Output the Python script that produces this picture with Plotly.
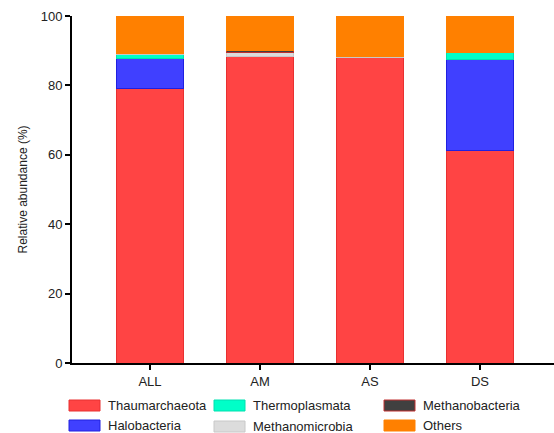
import plotly.graph_objects as go

categories = ["ALL", "AM", "AS", "DS"]
thaumarchaeota = [79.2, 88.3, 88.1, 61.1]
halobacteria = [8.5, 0.0, 0.0, 26.4]
thermoplasmata = [1.2, 0.0, 0.0, 2.1]
methanomicrobia = [0.3, 1.3, 0.3, 0.0]
methanobacteria = [0.1, 0.4, 0.0, 0.0]
others = [10.7, 10.0, 11.6, 10.4]

series = [
    ("Thaumarchaeota", thaumarchaeota, "#FF4444", "#E83030"),
    ("Halobacteria", halobacteria, "#4040FF", "#2020E0"),
    ("Thermoplasmata", thermoplasmata, "#00FFC8", "#00E0B0"),
    ("Methanomicrobia", methanomicrobia, "#DCDCDC", "#C8C8C8"),
    ("Methanobacteria", methanobacteria, "#404040", "#C03030"),
    ("Others", others, "#FF8000", "#FF8000"),
]

W, H = 554, 433
L, R, T, B = 72, 0, 16, 70
pw, ph = W - L - R, H - T - B

def px_x(px):
    return (px - L) / pw

def px_y(py):
    return (H - B - py) / ph

fig = go.Figure()
for name, vals, color, lcolor in series:
    fig.add_trace(go.Bar(
        x=categories, y=vals, name=name,
        marker=dict(color=color, line=dict(color=lcolor, width=1)),
        width=0.61, showlegend=False,
    ))

# legend laid out as in the reference (3 columns x 2 rows)
legend_pos = {
    "Thaumarchaeota": (69, 400),
    "Halobacteria": (69, 420),
    "Thermoplasmata": (214, 400),
    "Methanomicrobia": (214, 421),
    "Methanobacteria": (384, 400),
    "Others": (384, 420),
}
shapes, annotations = [], []
for name, vals, color, lcolor in series:
    x0, y0 = legend_pos[name]
    shapes.append(dict(
        type="rect", xref="paper", yref="paper",
        x0=px_x(x0), x1=px_x(x0 + 31), y0=px_y(y0), y1=px_y(y0 + 11),
        fillcolor=color, line=dict(color=lcolor, width=1),
    ))
    annotations.append(dict(
        xref="paper", yref="paper", x=px_x(x0 + 37), y=px_y(y0 + 5.5),
        xanchor="left", yanchor="middle", text=name, showarrow=False,
        font=dict(size=13, color="#222"),
    ))

fig.update_layout(
    barmode="stack",
    width=W, height=H,
    margin=dict(l=L, r=R, t=T, b=B, autoexpand=False),
    plot_bgcolor="white", paper_bgcolor="white",
    font=dict(family="Liberation Sans, Arial, sans-serif", size=13, color="#222"),
    showlegend=False,
    shapes=shapes, annotations=annotations,
)
fig.update_xaxes(
    range=[-0.709, 3.673], showline=True, linecolor="black", linewidth=2,
    ticks="outside", ticklen=5, tickwidth=1.5, tickcolor="black",
    tickfont=dict(size=13), showgrid=False, zeroline=False,
)
fig.update_yaxes(
    range=[0, 100], tick0=0, dtick=20, showline=True, linecolor="black", linewidth=2,
    ticks="outside", ticklen=5, tickwidth=1.5, tickcolor="black",
    tickfont=dict(size=13), showgrid=False, zeroline=False,
    title=dict(text="Relative abundance (%)", font=dict(size=12), standoff=10),
)

fig.write_html("out.html")
